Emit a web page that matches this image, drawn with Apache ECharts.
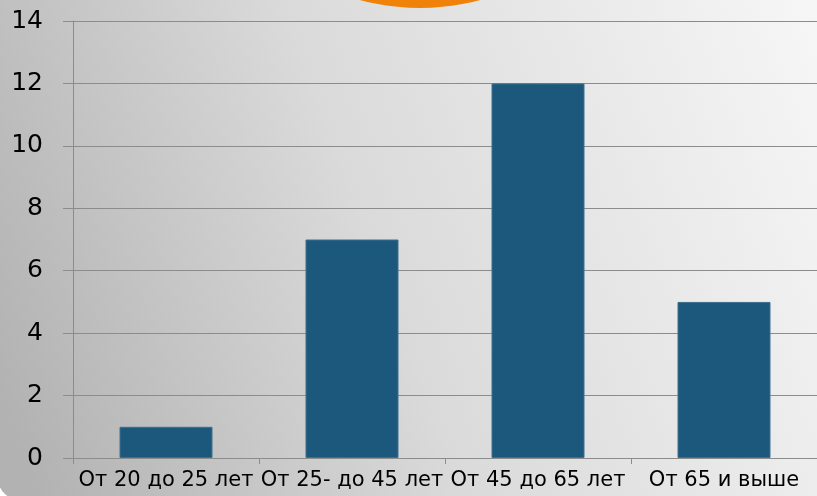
<!DOCTYPE html>
<html><head><meta charset="utf-8">
<script src="https://cdn.jsdelivr.net/npm/echarts@6/dist/echarts.min.js"></script>
<style>html,body{margin:0;padding:0;background:#fff}#c{width:817px;height:496px}</style>
</head><body><div id="c"></div>
<script>
var categories = ['От 20 до 25 лет', 'От 25- до 45 лет', 'От 45 до 65 лет', 'От 65 и выше'];
var values = [1, 7, 12, 5];
var yTicks = [0, 2, 4, 6, 8, 10, 12, 14];

var chart = echarts.init(document.getElementById('c'));
chart.setOption({
  animation: false,
  graphic: [
    { type: 'rect', z: -10, silent: true,
      shape: { x: -2, y: -20, width: 840, height: 520, r: [0, 0, 0, 22] },
      style: { fill: new echarts.graphic.LinearGradient(0, 0.8, 1, 0.2, [
        { offset: 0, color: '#b2b2b2' },
        { offset: 0.45, color: '#dadada' },
        { offset: 1, color: '#f6f6f6' }
      ]) } },
    { type: 'circle', z: 10, silent: true,
      shape: { cx: 420, cy: -222, r: 230 },
      style: { fill: '#f0820a' } }
  ],
  grid: { left: 73, right: 0, top: 21, bottom: 38 },
  xAxis: {
    type: 'category', data: categories,
    axisLine: { lineStyle: { color: '#8c8c8c', width: 1 } },
    axisTick: { show: true, length: 6, lineStyle: { color: '#8c8c8c' } },
    axisLabel: { interval: 0, color: '#000', fontFamily: 'DejaVu Sans', fontSize: 21, margin: 12 }
  },
  yAxis: {
    type: 'value', min: 0, max: 14, interval: 2,
    axisLine: { show: true, lineStyle: { color: '#8c8c8c', width: 1 } },
    axisTick: { show: true, length: 10, lineStyle: { color: '#8c8c8c' } },
    axisLabel: { color: '#000', fontFamily: 'DejaVu Sans', fontSize: 25, margin: 30,
      formatter: function (v) { return yTicks.indexOf(v) >= 0 ? String(v) : ''; } },
    splitLine: { lineStyle: { color: '#8c8c8c', width: 1 } }
  },
  series: [{
    type: 'bar', data: values, barWidth: '50%',
    itemStyle: { color: '#1c587b', borderColor: '#3e6f8e', borderWidth: 1 }
  }]
});
</script></body></html>
